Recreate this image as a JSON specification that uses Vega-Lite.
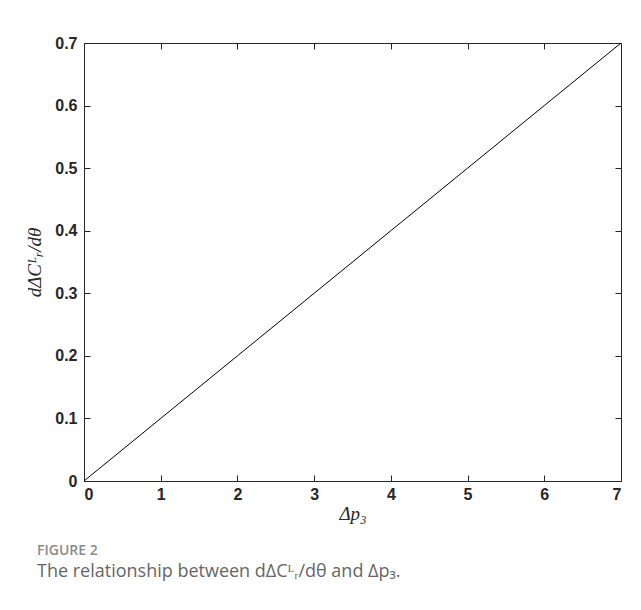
{
  "$schema": "https://vega.github.io/schema/vega-lite/v6.json",
  "width": 537,
  "height": 438,
  "autosize": "none",
  "padding": {"left": 84, "top": 43, "right": 20, "bottom": 129},
  "background": "white",
  "data": {"values": [
    {"dp3": 0, "dC": 0},
    {"dp3": 1, "dC": 0.1},
    {"dp3": 2, "dC": 0.2},
    {"dp3": 3, "dC": 0.3},
    {"dp3": 4, "dC": 0.4},
    {"dp3": 5, "dC": 0.5},
    {"dp3": 6, "dC": 0.6},
    {"dp3": 7, "dC": 0.7}
  ]},
  "title": {
    "text": "FIGURE 2",
    "subtitle": "The relationship between dΔCᴸᵣ/dθ and Δp₃.",
    "orient": "bottom",
    "anchor": "start",
    "frame": "group",
    "dx": -47,
    "offset": 21,
    "font": "Open Sans",
    "fontSize": 14,
    "fontWeight": 600,
    "color": "#8a8a8a",
    "subtitleFont": "Open Sans",
    "subtitleFontSize": 18,
    "subtitleColor": "#666666",
    "subtitlePadding": 5
  },
  "config": {
    "view": {"stroke": "#262626", "strokeWidth": 1},
    "axis": {
      "domain": false,
      "grid": false,
      "tickColor": "#262626",
      "tickSize": -6,
      "labelFont": "Liberation Sans",
      "labelFontSize": 16,
      "labelFontWeight": "bold",
      "labelColor": "#262626",
      "titleFont": "Liberation Serif",
      "titleFontStyle": "italic",
      "titleFontWeight": "normal",
      "titleFontSize": 19,
      "titleColor": "#262626"
    }
  },
  "layer": [
    {
      "mark": {"type": "line", "color": "black", "strokeWidth": 1},
      "encoding": {
        "x": {"field": "dp3", "type": "quantitative",
              "scale": {"domain": [0, 7], "nice": false},
              "axis": {"orient": "bottom", "title": "Δp₃", "values": [0,1,2,3,4,5,6,7], "labelPadding": 11, "titlePadding": 2}},
        "y": {"field": "dC", "type": "quantitative",
              "scale": {"domain": [0, 0.7], "nice": false, "zero": false},
              "axis": {"orient": "left", "title": "dΔCᴸᵣ/dθ", "values": [0,0.1,0.2,0.3,0.4,0.5,0.6,0.7], "format": "~g", "labelPadding": 13, "titlePadding": 10}}
      }
    },
    {
      "mark": {"type": "line", "opacity": 0},
      "encoding": {
        "x": {"field": "dp3", "type": "quantitative",
              "scale": {"domain": [0, 7], "nice": false},
              "axis": {"orient": "top", "title": null, "labels": false, "values": [0,1,2,3,4,5,6,7]}},
        "y": {"field": "dC", "type": "quantitative",
              "scale": {"domain": [0, 0.7], "nice": false, "zero": false},
              "axis": {"orient": "right", "title": null, "labels": false, "values": [0,0.1,0.2,0.3,0.4,0.5,0.6,0.7]}}
      }
    }
  ],
  "resolve": {"axis": {"x": "independent", "y": "independent"}}
}
